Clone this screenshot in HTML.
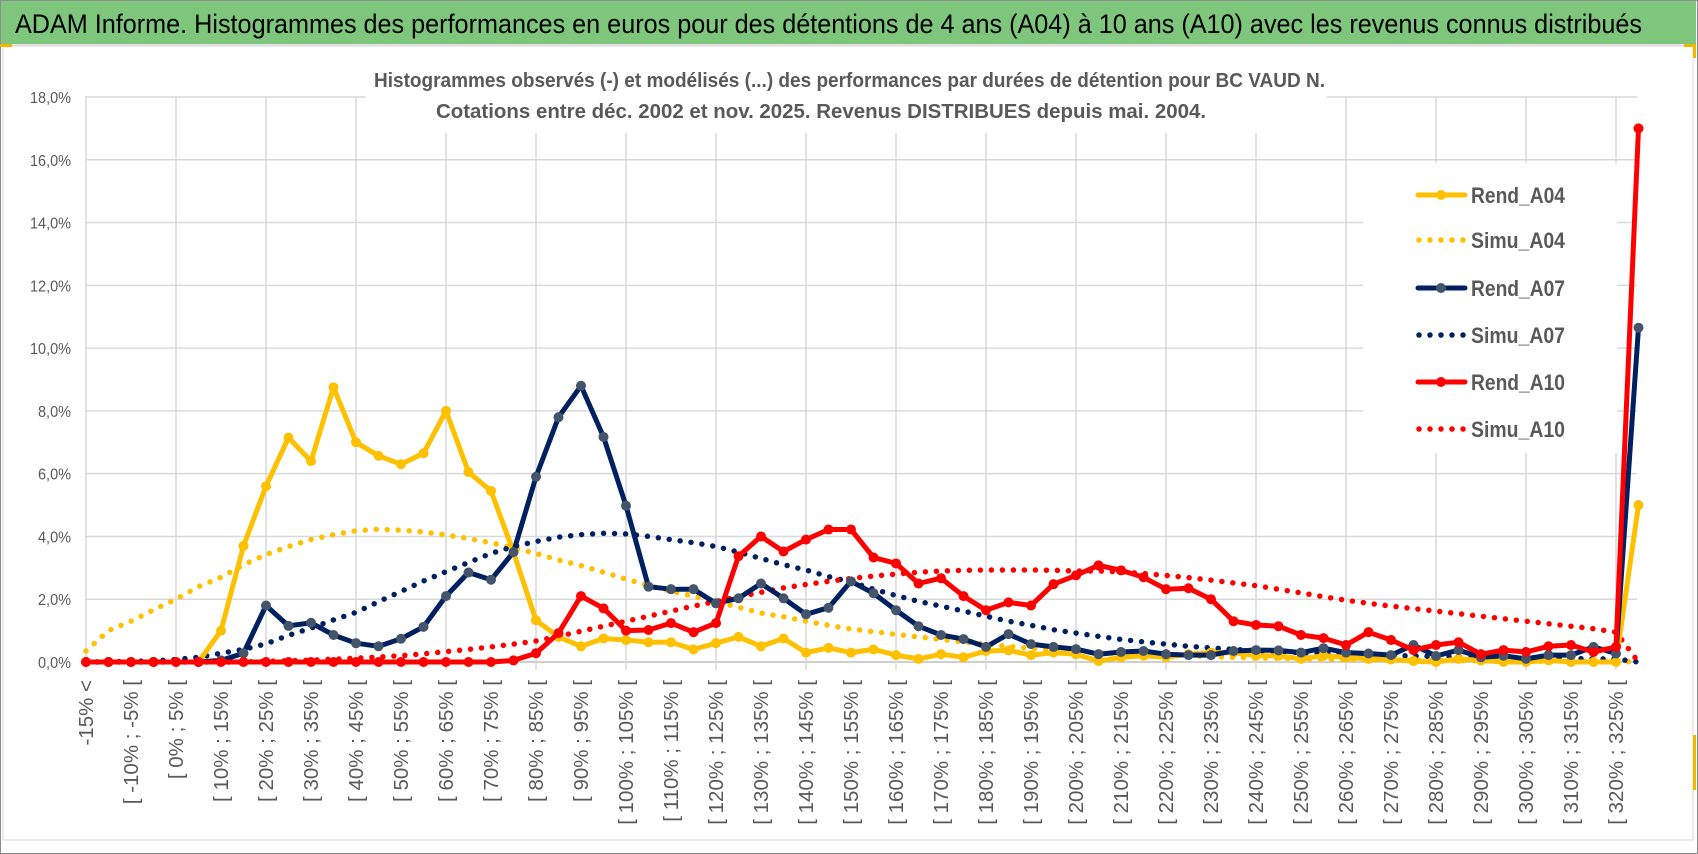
<!DOCTYPE html>
<html><head><meta charset="utf-8"><title>ADAM Informe</title>
<style>
html,body{margin:0;padding:0;background:#fff;}
svg{display:block;font-family:"Liberation Sans",sans-serif;}
</style></head>
<body>
<svg id="chart" width="1698" height="854" viewBox="0 0 1698 854">
  <rect x="0.5" y="0.5" width="1697" height="853" fill="#fff" stroke="#8c8c8c"/>
  <rect x="1" y="1" width="1695" height="43" fill="#7dc67c"/>
  <line x1="1" y1="45" x2="1696" y2="45" stroke="#e3e3e3" stroke-width="2"/>
  <text x="15" y="33" font-size="27" fill="#000" textLength="1627" lengthAdjust="spacingAndGlyphs">ADAM Informe. Histogrammes des performances en euros pour des détentions de 4 ans (A04) à 10 ans (A10) avec les revenus connus distribués</text>
  <rect x="3" y="46" width="1690" height="794" fill="none" stroke="#d9d9d9"/>
  <rect x="0" y="44" width="12" height="3" fill="#f2b800"/>
  <rect x="1684" y="44" width="12" height="3" fill="#f2b800"/>
  <rect x="1693" y="44" width="3" height="14" fill="#f2b800"/>
  <rect x="1693" y="735" width="3" height="55" fill="#f2b800"/>
  <g id="grid"></g>
  <rect x="366" y="58" width="961" height="75" fill="#fff"/>
  <text x="374" y="87" font-size="20" font-weight="bold" fill="#595959" textLength="951" lengthAdjust="spacingAndGlyphs">Histogrammes observés (-) et modélisés (...) des performances par durées de détention pour BC VAUD N.</text>
  <text x="436" y="118" font-size="20" font-weight="bold" fill="#595959" textLength="770" lengthAdjust="spacingAndGlyphs">Cotations entre déc. 2002 et nov. 2025. Revenus DISTRIBUES depuis mai. 2004.</text>
  <g id="yaxis"></g>
  <g id="xaxis"></g>
  <g id="series"></g>
  <g id="legend"></g>
</svg>
<script>
const categories = ["-15% <","[ -15% ; -10% [","[ -10% ; -5% [","[ -5% ; 0% [","[ 0% ; 5% [","[ 5% ; 10% [","[ 10% ; 15% [","[ 15% ; 20% [","[ 20% ; 25% [","[ 25% ; 30% [","[ 30% ; 35% [","[ 35% ; 40% [","[ 40% ; 45% [","[ 45% ; 50% [","[ 50% ; 55% [","[ 55% ; 60% [","[ 60% ; 65% [","[ 65% ; 70% [","[ 70% ; 75% [","[ 75% ; 80% [","[ 80% ; 85% [","[ 85% ; 90% [","[ 90% ; 95% [","[ 95% ; 100% [","[ 100% ; 105% [","[ 105% ; 110% [","[ 110% ; 115% [","[ 115% ; 120% [","[ 120% ; 125% [","[ 125% ; 130% [","[ 130% ; 135% [","[ 135% ; 140% [","[ 140% ; 145% [","[ 145% ; 150% [","[ 150% ; 155% [","[ 155% ; 160% [","[ 160% ; 165% [","[ 165% ; 170% [","[ 170% ; 175% [","[ 175% ; 180% [","[ 180% ; 185% [","[ 185% ; 190% [","[ 190% ; 195% [","[ 195% ; 200% [","[ 200% ; 205% [","[ 205% ; 210% [","[ 210% ; 215% [","[ 215% ; 220% [","[ 220% ; 225% [","[ 225% ; 230% [","[ 230% ; 235% [","[ 235% ; 240% [","[ 240% ; 245% [","[ 245% ; 250% [","[ 250% ; 255% [","[ 255% ; 260% [","[ 260% ; 265% [","[ 265% ; 270% [","[ 270% ; 275% [","[ 275% ; 280% [","[ 280% ; 285% [","[ 285% ; 290% [","[ 290% ; 295% [","[ 295% ; 300% [","[ 300% ; 305% [","[ 305% ; 310% [","[ 310% ; 315% [","[ 315% ; 320% [","[ 320% ; 325% [","325% <"];
const yTicks = [0,2,4,6,8,10,12,14,16,18];
const yTickLabels = ["0,0%","2,0%","4,0%","6,0%","8,0%","10,0%","12,0%","14,0%","16,0%","18,0%"];
const rendA04 = [0,0,0,0,0,0,1.0,3.7,5.6,7.15,6.4,8.75,7.0,6.57,6.3,6.65,8.0,6.05,5.45,3.5,1.33,0.8,0.5,0.75,0.7,0.63,0.63,0.4,0.6,0.8,0.5,0.75,0.3,0.45,0.3,0.4,0.22,0.1,0.25,0.15,0.35,0.37,0.22,0.3,0.25,0.03,0.15,0.2,0.15,0.25,0.3,0.3,0.2,0.2,0.1,0.2,0.15,0.1,0.08,0.03,0,0.1,0.05,0,0,0.05,0,0,0,5.0];
const rendA07 = [0,0,0,0,0,0,0.05,0.28,1.8,1.15,1.25,0.86,0.6,0.5,0.74,1.12,2.1,2.85,2.62,3.5,5.9,7.8,8.8,7.17,4.98,2.4,2.32,2.32,1.87,2.03,2.5,2.03,1.52,1.73,2.57,2.19,1.65,1.14,0.86,0.73,0.48,0.89,0.57,0.48,0.41,0.25,0.32,0.35,0.25,0.22,0.22,0.35,0.38,0.37,0.3,0.44,0.3,0.27,0.22,0.54,0.19,0.38,0.15,0.2,0.1,0.22,0.22,0.48,0.27,10.65];
const rendA10 = [0,0,0,0,0,0,0,0,0,0,0,0,0,0,0,0,0,0,0,0.05,0.28,0.92,2.1,1.71,1.0,1.02,1.24,0.95,1.24,3.37,4.0,3.52,3.9,4.22,4.22,3.33,3.14,2.5,2.67,2.1,1.65,1.9,1.8,2.48,2.76,3.08,2.92,2.7,2.32,2.35,2.0,1.3,1.18,1.14,0.86,0.76,0.54,0.95,0.7,0.38,0.54,0.63,0.25,0.38,0.32,0.5,0.54,0.32,0.48,17.0];
const simuA04 = [0.35,1.0,1.3,1.66,2.0,2.4,2.7,3.1,3.42,3.68,3.9,4.06,4.18,4.23,4.2,4.14,4.05,3.93,3.8,3.63,3.46,3.25,3.07,2.86,2.64,2.44,2.26,2.1,1.93,1.74,1.56,1.44,1.3,1.17,1.05,0.97,0.88,0.8,0.72,0.64,0.56,0.5,0.44,0.39,0.34,0.3,0.27,0.24,0.21,0.19,0.17,0.15,0.13,0.12,0.1,0.09,0.08,0.07,0.06,0.05,0.05,0.04,0.04,0.03,0.03,0.02,0.02,0.02,0.02,0];
const simuA07 = [0,0.01,0.02,0.04,0.08,0.15,0.28,0.4,0.58,0.85,1.08,1.34,1.58,1.92,2.25,2.58,2.88,3.17,3.46,3.68,3.84,3.98,4.06,4.1,4.08,4.0,3.9,3.8,3.68,3.5,3.3,3.1,2.93,2.72,2.55,2.32,2.12,1.93,1.78,1.62,1.46,1.3,1.17,1.03,0.92,0.82,0.72,0.64,0.57,0.5,0.45,0.4,0.36,0.33,0.3,0.27,0.25,0.23,0.21,0.19,0.18,0.16,0.15,0.14,0.13,0.12,0.11,0.1,0.1,0];
const simuA10 = [0,0,0,0,0,0,0,0,0.02,0.04,0.06,0.09,0.12,0.16,0.2,0.26,0.33,0.4,0.48,0.57,0.67,0.82,0.98,1.14,1.3,1.46,1.62,1.78,1.93,2.08,2.22,2.36,2.47,2.57,2.66,2.74,2.8,2.86,2.9,2.92,2.93,2.93,2.93,2.92,2.9,2.9,2.87,2.82,2.76,2.69,2.61,2.52,2.43,2.32,2.2,2.08,1.97,1.87,1.78,1.7,1.62,1.54,1.46,1.38,1.3,1.22,1.14,1.06,0.95,0];

const NS = "http://www.w3.org/2000/svg";
const X0 = 86, DX = 22.5, Y0 = 662, YMAX = 97, VMAX = 18;
const PLOT_L = 85, PLOT_R = 1637;
function xs(i){ return X0 + DX * i; }
function ys(v){ return Y0 - (Y0 - YMAX) * v / VMAX; }
function mk(tag, attrs, parent){
  const el = document.createElementNS(NS, tag);
  for (const k in attrs) el.setAttribute(k, attrs[k]);
  parent.appendChild(el);
  return el;
}

const grid = document.getElementById('grid');
yTicks.forEach(function(t){
  const l = mk('line', {x1: PLOT_L, x2: PLOT_R, y1: ys(t), y2: ys(t), stroke: t === 0 ? '#bfbfbf' : '#d9d9d9', 'stroke-width': 1.5}, grid);
  
  
});
for (let i = 0; i < categories.length; i += 4) {
  const l = mk('line', {x1: xs(i), x2: xs(i), y1: YMAX, y2: Y0 + 8, stroke: '#d9d9d9', 'stroke-width': 1.5}, grid);
  
  
}

const yaxis = document.getElementById('yaxis');
yTicks.forEach(function(t, k){
  const tx = mk('text', {x: 71, y: ys(t) + 6, 'text-anchor': 'end', 'font-size': 16, fill: '#595959', textLength: yTickLabels[k].length > 4 ? (yTickLabels[k].length === 5 ? 41 : 49) : 33, lengthAdjust: 'spacingAndGlyphs'}, yaxis);
  tx.textContent = yTickLabels[k];
  
  
});

const xaxis = document.getElementById('xaxis');
categories.forEach(function(c, i){
  if (i % 2 !== 0 || i > 68) return;
  const px = xs(i) + 7, py = 680;
  const tx = mk('text', {x: px, y: py, transform: 'rotate(-90 ' + px + ' ' + py + ')', 'text-anchor': 'end', 'font-size': 20.5, fill: '#595959'}, xaxis);
  tx.textContent = c;
  
  
});

const seriesG = document.getElementById('series');
function pathD(vals){ return vals.map(function(v, i){ return (i ? 'L' : 'M') + xs(i).toFixed(1) + ' ' + ys(v).toFixed(1); }).join(' '); }
function dotted(vals, color, name){
  const p = mk('path', {d: pathD(vals), fill: 'none', stroke: color, 'stroke-width': 5.5, 'stroke-linecap': 'round', 'stroke-dasharray': '0 11'}, seriesG);
  
  
}
function solid(vals, color, mcolor, name){
  const g = mk('g', {}, seriesG);
  
  
  const p = mk('path', {d: pathD(vals), fill: 'none', stroke: color, 'stroke-width': 5, 'stroke-linejoin': 'round'}, g);
  
  
  vals.forEach(function(v, i){
    const c = mk('circle', {cx: xs(i), cy: ys(v), r: 5, fill: mcolor}, g);
    
    
  });
}
dotted(simuA04, '#ffc000', 'simu-a04-series');
dotted(simuA07, '#002060', 'simu-a07-series');
dotted(simuA10, '#ff0000', 'simu-a10-series');
solid(rendA04, '#ffc000', '#ffc000', 'rend-a04-series');
solid(rendA07, '#002060', '#44546a', 'rend-a07-series');
solid(rendA10, '#ff0000', '#ff0000', 'rend-a10-series');

const legend = document.getElementById('legend');
const bg = mk('rect', {x: 1363, y: 163, width: 254, height: 290, fill: '#fff'}, legend);


const legendNames = ['Rend_A04','Simu_A04','Rend_A07','Simu_A07','Rend_A10','Simu_A10'];
const legendColors = ['#ffc000','#ffc000','#002060','#002060','#ff0000','#ff0000'];
const legendMarker = ['#ffc000',null,'#44546a',null,'#ff0000',null];
const legendY = [195,240,288,335,382,429];
legendNames.forEach(function(n, k){
  const g = mk('g', {}, legend);
  
  
  const y = legendY[k];
  if (legendMarker[k]) {
    mk('line', {x1: 1418, x2: 1465, y1: y, y2: y, stroke: legendColors[k], 'stroke-width': 5, 'stroke-linecap': 'round'}, g);
    mk('circle', {cx: 1441, cy: y, r: 5, fill: legendMarker[k]}, g);
  } else {
    mk('line', {x1: 1419, x2: 1466, y1: y, y2: y, stroke: legendColors[k], 'stroke-width': 5.5, 'stroke-linecap': 'round', 'stroke-dasharray': '0 11'}, g);
  }
  const t = mk('text', {x: 1471, y: y + 8, 'font-size': 22, 'font-weight': 'bold', fill: '#595959', textLength: 94, lengthAdjust: 'spacingAndGlyphs'}, g);
  t.textContent = n;
});
</script>
</body></html>
